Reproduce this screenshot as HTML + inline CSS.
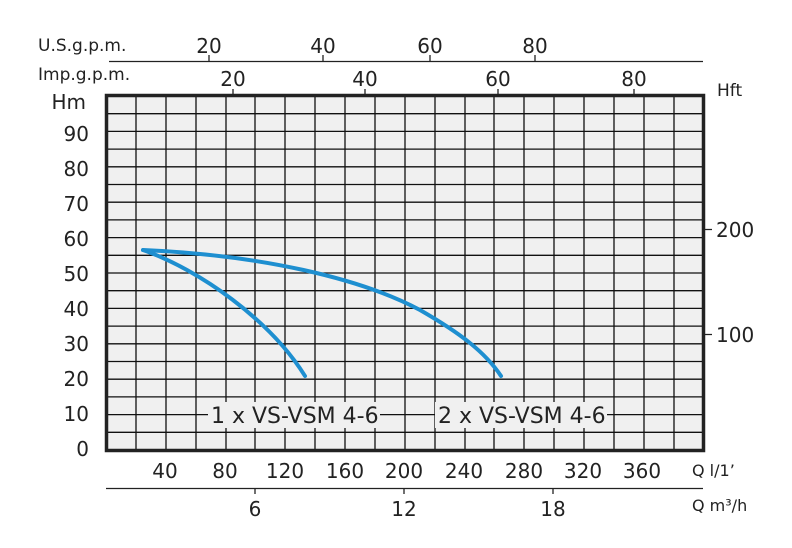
<!DOCTYPE html>
<html><head><meta charset="utf-8"><style>
body{margin:0;background:#fff;}
svg text{font-family:"DejaVu Sans","Liberation Sans",sans-serif;fill:#222;}
</style></head><body>
<svg width="792" height="543" viewBox="0 0 792 543" xmlns="http://www.w3.org/2000/svg">
<rect x="106" y="96" width="598" height="354" fill="#f0f0f0"/>
<g stroke="#111" stroke-width="1.3">
<path d="M136 96V450M166 96V450M196 96V450M226 96V450M255 96V450M285 96V450M315 96V450M345 96V450M375 96V450M405 96V450M435 96V450M465 96V450M494 96V450M524 96V450M554 96V450M584 96V450M614 96V450M644 96V450M674 96V450"/>
<path d="M106 113.7H704M106 131.4H704M106 149.1H704M106 166.8H704M106 184.5H704M106 202.2H704M106 219.9H704M106 237.6H704M106 255.3H704M106 273H704M106 290.7H704M106 308.4H704M106 326.1H704M106 343.8H704M106 361.5H704M106 379.2H704M106 396.9H704M106 414.6H704M106 432.3H704"/>
</g>
<rect x="106.5" y="95.5" width="597" height="355" fill="none" stroke="#222" stroke-width="3.5"/>
<g stroke="#222" stroke-width="1.3">
<path d="M109 61.5H703M209 55V61M323 55V61M430 55V61M535 55V61"/>
<path d="M233 89V95M365 89V95M498 89V95M634 89V95"/>
<path d="M106 488.5H703M255 488V494M404 488V494M553 488V494"/>
<path d="M704 229.5H712M704 334.5H712"/>
</g>
<g font-size="17">
<text x="38" y="51">U.S.g.p.m.</text>
<text x="38" y="80">Imp.g.p.m.</text>
</g>
<g font-size="20" text-anchor="middle">
<text x="209" y="53">20</text><text x="323" y="53">40</text><text x="430" y="53">60</text><text x="535" y="53">80</text>
<text x="233" y="86">20</text><text x="365" y="86">40</text><text x="498" y="86">60</text><text x="634" y="86">80</text>
</g>
<g font-size="20" text-anchor="end">
<text x="86" y="109">Hm</text>
<text x="89" y="141">90</text><text x="89" y="176">80</text><text x="89" y="211">70</text><text x="89" y="246">60</text><text x="89" y="281">50</text><text x="89" y="316">40</text><text x="89" y="351">30</text><text x="89" y="386">20</text><text x="89" y="421">10</text><text x="89" y="456">0</text>
</g>
<text x="717" y="96" font-size="17">Hft</text>
<text x="716" y="237" font-size="20">200</text>
<text x="716" y="342" font-size="20">100</text>
<g font-size="20" text-anchor="middle">
<text x="165" y="478">40</text><text x="225" y="478">80</text><text x="285" y="478">120</text><text x="345" y="478">160</text><text x="404" y="478">200</text><text x="464" y="478">240</text><text x="524" y="478">280</text><text x="583" y="478">320</text><text x="642" y="478">360</text>
<text x="255" y="516">6</text><text x="404" y="516">12</text><text x="553" y="516">18</text>
</g>
<text x="692" y="476" font-size="16">Q l/1’</text>
<text x="692" y="511" font-size="16">Q m³/h</text>
<g fill="none" stroke="#1e8fd0" stroke-width="4" stroke-linecap="round">
<path d="M143 250C200 270 270 320 305 376"/>
<path d="M143 250C260 255 360 278 420 310C460 333 485 352 501 376"/>
</g>
<rect x="208" y="402" width="172" height="26" fill="#f0f0f0"/>
<rect x="435" y="402" width="172" height="26" fill="#f0f0f0"/>
<text x="211" y="423" font-size="22">1 x VS-VSM 4-6</text>
<text x="438" y="423" font-size="22">2 x VS-VSM 4-6</text>
</svg>
</body></html>
